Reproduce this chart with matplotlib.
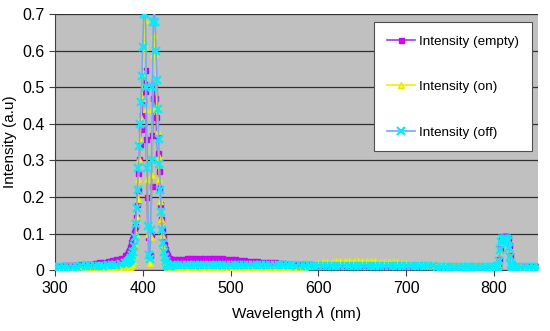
import matplotlib
matplotlib.use("Agg")
import matplotlib.pyplot as plt
import numpy as np
from matplotlib.ticker import FuncFormatter

plt.rcParams['font.family'] = ['Liberation Sans', 'DejaVu Sans']

# wavelength grid (nm)
wavelength = (list(range(300, 381, 5)) + list(range(382, 433)) +
              list(range(435, 801, 5)) + list(range(802, 823)) +
              list(range(825, 851, 5)))

intensity_empty = (
    [0.012,0.012,0.013,0.013,0.014,0.015,0.016,0.017,0.018,0.019,0.021,0.022,0.024,0.027,0.030,0.034,0.040]
    + [0.045,0.050,0.056,0.062,0.070,0.078,0.086,0.095,0.105,0.120,
       0.145,0.180,0.220,0.265,0.305,0.345,0.385,0.425,0.465,0.510,
       0.547,0.490,0.360,0.200,0.090,0.040,0.040,0.100,0.230,0.370,
       0.470,0.514,0.470,0.420,0.370,0.320,0.270,0.225,0.180,0.140,
       0.110,0.090,0.072,0.058,0.048,0.040,0.036,0.033,0.032,0.031,0.031]
    + [0.031,0.031,0.031,0.032,0.032,0.032,0.033,0.033,0.033,0.033,
       0.032,0.032,0.031,0.030,0.029,0.028,0.027,0.026,0.025,0.024,
       0.023,0.022,0.021,0.021,0.020,0.019,0.018,0.018,0.017,0.017,
       0.016,0.016,0.015,0.015]
    + [0.015,0.015,0.015,0.014,0.014,0.014,0.014,0.014,0.013,0.013,
       0.013,0.013,0.013,0.013,0.012,0.012,0.012,0.012,0.012,0.012,
       0.012,0.012,0.012,0.012,0.011,0.011,0.011,0.011,0.011,0.011,
       0.011,0.011,0.011,0.011,0.011,0.011,0.011,0.011,0.011,0.011]
    + [0.011,0.011,0.012,0.015,0.030,0.060,0.085,0.090,0.091,0.092,0.092,
       0.092,0.091,0.090,0.088,0.070,0.040,0.020,0.013,0.011,0.011]
    + [0.011,0.011,0.010,0.010,0.010,0.010])

intensity_on = (
    [0.003,0.003,0.003,0.003,0.003,0.003,0.003,0.003,0.003,0.003,0.003,0.004,0.004,0.004,0.004,0.004,0.005]
    + [0.005,0.006,0.007,0.008,0.010,0.013,0.018,0.026,0.040,0.065,
       0.100,0.145,0.195,0.250,0.305,0.360,0.415,0.470,0.540,0.620,
       0.684,0.610,0.440,0.250,0.100,0.030,0.020,0.090,0.260,0.440,
       0.590,0.643,0.590,0.520,0.450,0.380,0.310,0.250,0.190,0.140,
       0.095,0.062,0.040,0.026,0.017,0.011,0.008,0.006,0.005,0.004,0.004]
    + [0.004,0.004,0.004,0.004,0.004,0.004,0.004,0.004,0.004,0.004,
       0.004,0.004,0.004,0.004,0.004,0.004,0.004,0.004,0.004,0.004,
       0.004,0.004,0.004,0.004,0.004,0.005,0.005,0.005,0.006,0.006,
       0.008,0.012,0.016,0.019]
    + [0.021,0.022,0.023,0.024,0.024,0.024,0.024,0.024,0.024,0.024,
       0.024,0.024,0.024,0.023,0.023,0.022,0.022,0.021,0.020,0.019,
       0.018,0.017,0.016,0.015,0.015,0.014,0.014,0.013,0.013,0.012,
       0.012,0.012,0.011,0.011,0.011,0.010,0.010,0.010,0.010,0.010]
    + [0.010,0.010,0.011,0.013,0.025,0.055,0.078,0.083,0.084,0.085,0.085,
       0.085,0.084,0.083,0.080,0.060,0.035,0.018,0.011,0.009,0.009]
    + [0.008,0.008,0.008,0.007,0.007,0.007])

intensity_off = (
    [0.008,0.008,0.008,0.009,0.009,0.009,0.010,0.010,0.010,0.011,0.011,0.012,0.013,0.014,0.015,0.017,0.020]
    + [0.020,0.022,0.024,0.027,0.030,0.034,0.040,0.050,0.065,0.090,
       0.125,0.170,0.220,0.280,0.340,0.400,0.460,0.530,0.610,0.700,
       0.780,0.700,0.500,0.280,0.120,0.040,0.030,0.110,0.300,0.500,
       0.680,0.740,0.680,0.600,0.520,0.440,0.360,0.290,0.220,0.160,
       0.110,0.075,0.050,0.035,0.025,0.018,0.014,0.012,0.011,0.010,0.010]
    + [0.013,0.014,0.014,0.015,0.015,0.015,0.015,0.015,0.015,0.015,
       0.015,0.015,0.015,0.015,0.015,0.015,0.014,0.014,0.014,0.014,
       0.014,0.014,0.013,0.013,0.013,0.013,0.013,0.013,0.012,0.012,
       0.012,0.012,0.012,0.012]
    + [0.012,0.012,0.012,0.012,0.012,0.012,0.012,0.012,0.011,0.011,
       0.011,0.011,0.011,0.011,0.011,0.011,0.010,0.010,0.010,0.010,
       0.010,0.010,0.010,0.010,0.010,0.010,0.009,0.009,0.009,0.009,
       0.009,0.009,0.009,0.009,0.009,0.009,0.009,0.009,0.009,0.009]
    + [0.009,0.009,0.010,0.012,0.025,0.055,0.078,0.084,0.085,0.086,0.086,
       0.086,0.085,0.084,0.080,0.060,0.035,0.018,0.011,0.009,0.009]
    + [0.008,0.008,0.008,0.008,0.008,0.008])

assert len(wavelength) == len(intensity_empty) == len(intensity_on) == len(intensity_off)

series_labels = ["Intensity (empty)", "Intensity (on)", "Intensity (off)"]
x_ticks = [300, 400, 500, 600, 700, 800]
y_ticks = [0, 0.1, 0.2, 0.3, 0.4, 0.5, 0.6, 0.7]

fig = plt.figure(figsize=(5.5, 3.31), dpi=100)
ax = fig.add_axes([0.1, 0.184, 0.878, 0.773])
ax.set_facecolor('#c0c0c0')

ax.plot(wavelength, intensity_empty, color='#9040f0', lw=1.2, marker='s',
        markersize=3.6, markerfacecolor='#dd00ff', markeredgecolor='#cc00ff',
        label=series_labels[0], zorder=3)
ax.plot(wavelength, intensity_on, color='#f0f000', lw=1.2, marker='^',
        markersize=4.5, markerfacecolor='#ffff00', markeredgecolor='#e8e800',
        label=series_labels[1], zorder=4)
ax.plot(wavelength, intensity_off, color='#70a8ff', lw=1.2, marker='x',
        markersize=5.5, markeredgecolor='#00eeff', markeredgewidth=1.6,
        label=series_labels[2], zorder=5)

ax.set_xlim(300, 850)
ax.set_ylim(0, 0.7)
ax.set_xticks(x_ticks)
ax.set_yticks(y_ticks)
ax.yaxis.set_major_formatter(FuncFormatter(lambda v, p: '0' if v == 0 else f'{v:.1f}'))
ax.grid(axis='y', color='#303030', lw=0.9)
ax.set_axisbelow(True)
for s in ['top', 'right']:
    ax.spines[s].set_visible(False)
for s in ['left', 'bottom']:
    ax.spines[s].set_color('#404040')
ax.tick_params(axis='both', labelsize=11.5, length=4, color='#404040', direction='out')

ax.set_xlabel(r'Wavelength $\lambda$ (nm)', fontsize=11, labelpad=6)
ax.set_ylabel('Intensity (a.u)', fontsize=11, labelpad=4)

leg = ax.legend(loc='upper left', bbox_to_anchor=(0.66, 0.968), fontsize=9.7,
                labelspacing=2.45, handlelength=2.1, handletextpad=0.3,
                borderpad=0.95, frameon=True, fancybox=False, framealpha=1,
                borderaxespad=0)
leg.get_frame().set_edgecolor('#505050')
leg.get_frame().set_linewidth(0.8)

fig.savefig('out.png', dpi=100)
